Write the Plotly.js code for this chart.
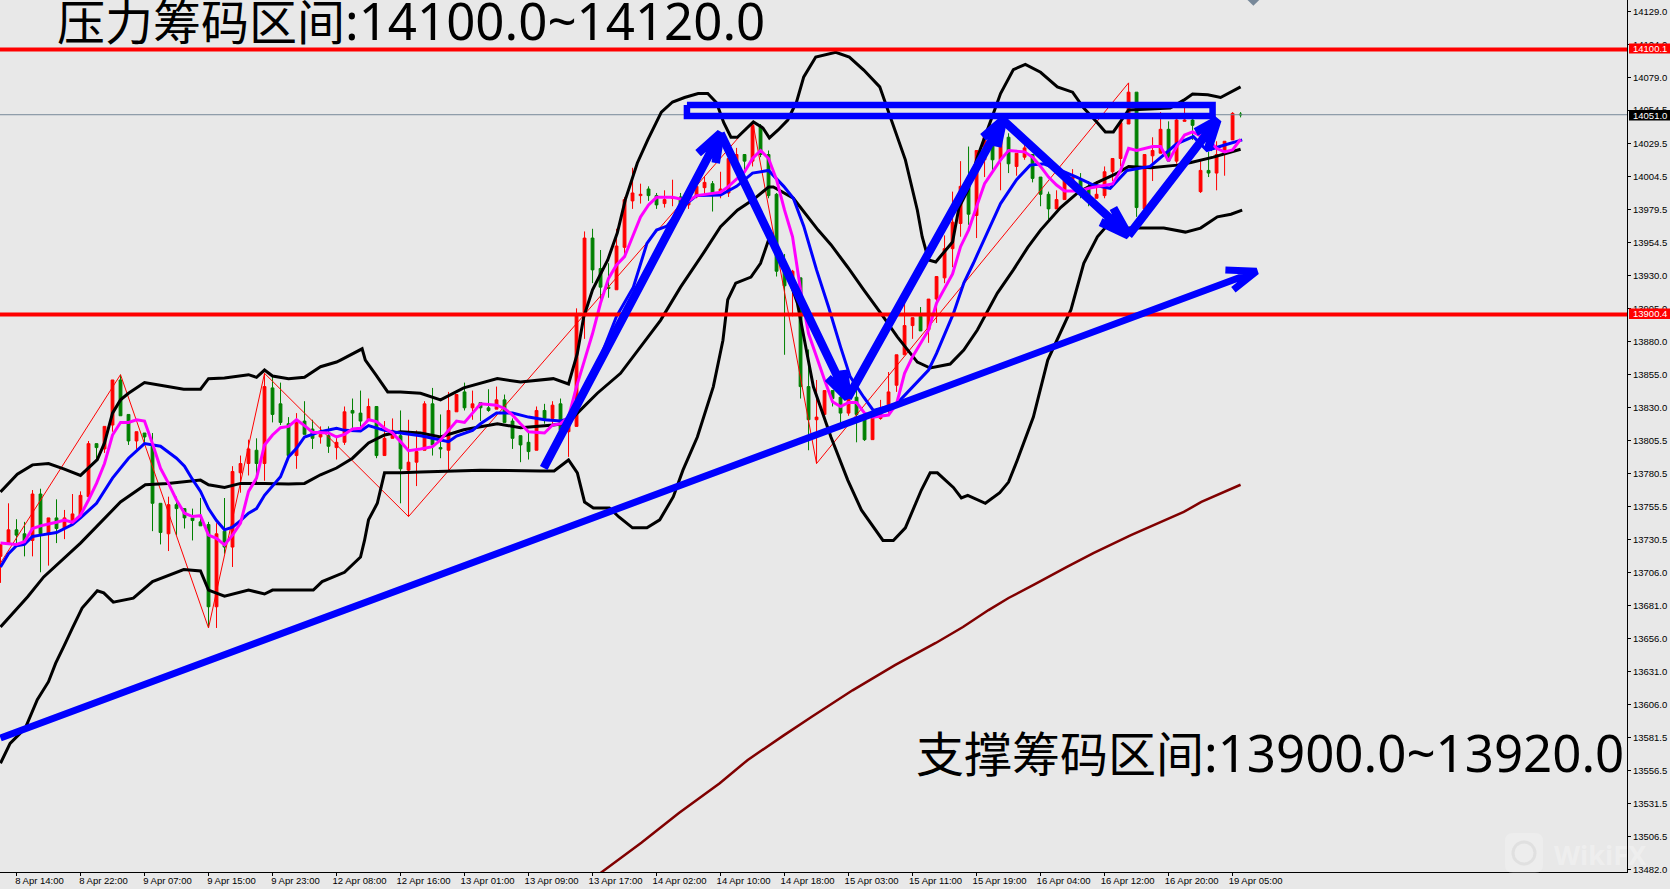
<!DOCTYPE html>
<html>
<head>
<meta charset="utf-8">
<script src="https://cdn.plot.ly/plotly-3.0.1.min.js"></script>
<style>html,body{margin:0;padding:0;background:#e8e8e8;overflow:hidden}#chart{width:1670px;height:889px}</style>
</head>
<body>
<div id="chart"></div>
<script>
const open = [
13718,13728,13738,13735,13730,13765,13735,13747,13739,13742,
13748,13763,13803,13799,13817,13851,13825,13805,13811,13801,
13758,13735,13757,13754,13747,13744,13742,13680,13737,13725,
13781,13788,13798,13788,13845,13833,13818,13794,13820,13814,
13808,13809,13800,13804,13828,13826,13821,13831,13794,13807,
13809,13783,13789,13798,13833,13800,13798,13827,13842,13830,
13834,13830,13829,13836,13820,13809,13804,13798,13828,13822,
13833,13812,13816,13902,13958,13935,13921,13919,13951,13986,
13990,13995,13990,13984,13988,13989,13983,13989,13996,13999,
13993,13992,14016,14021,14016,14042,14021,13991,13934,13921,
13928,13846,13821,13825,13843,13838,13826,13838,13823,13806,
13822,13828,13847,13870,13892,13899,13889,13912,13928,13950,
13969,13997,13975,14017,14032,14017,14034,14012,14019,14021,
14004,13991,13980,13987,14002,14002,13997,13988,13990,14008,
14018,14044,14068,13980,14020,14022,14040,14016,14046,14047,
13993,14009,14007,14022,14032,14051.5];
const high = [
13727,13758,13746,13744,13768,13769,13747,13761,13753,13765,
13767,13805,13803,13816,13851,13855,13825,13812,13811,13811,
13758,13763,13763,13754,13754,13762,13744,13743,13762,13786,
13794,13806,13807,13856,13854,13849,13823,13826,13835,13821,
13816,13816,13809,13831,13837,13843,13837,13831,13820,13822,
13828,13821,13813,13835,13845,13825,13842,13840,13849,13843,
13834,13844,13846,13840,13822,13809,13812,13831,13833,13835,
13837,13817,13905,13963,13965,13949,13939,13965,13989,14011,
13999,13997,13992,13994,14002,13992,13990,14002,14004,14001,
14008,14018,14026,14021,14046,14044,14024,13992,13946,13934,
13928,13874,13851,13843,13843,13840,13851,13846,13823,13824,
13836,13857,13870,13910,13898,13906,13912,13929,13960,13993,
14016,14027,14024,14034,14032,14034,14037,14022,14029,14021,
14004,13993,13994,14007,14010,14007,14001,14001,14012,14018,
14045,14075,14068,14021,14034,14053,14046,14052,14057,14050,
14016,14023,14031,14031,14053,14053];
const low = [
13698,13728,13727,13718,13718,13706,13711,13728,13731,13742,
13748,13763,13791,13796,13812,13824,13802,13799,13803,13737,
13727,13722,13734,13739,13730,13741,13664,13664,13720,13710,
13766,13779,13772,13775,13819,13817,13793,13784,13810,13799,
13803,13796,13791,13802,13813,13813,13821,13792,13794,13807,
13758,13748,13771,13798,13794,13792,13783,13827,13828,13821,
13820,13827,13829,13819,13799,13789,13791,13798,13818,13818,
13812,13793,13816,13882,13924,13909,13913,13919,13944,13980,
13984,13986,13980,13981,13982,13979,13980,13988,13990,13978,
13988,13989,14008,14007,14012,14019,13988,13929,13870,13899,
13837,13798,13788,13825,13831,13818,13824,13804,13805,13806,
13821,13826,13842,13870,13882,13888,13879,13894,13924,13936,
13959,13968,13958,14004,14009,13994,14007,14005,14017,14000,
13982,13972,13980,13987,13998,13988,13982,13988,13988,14001,
14012,14044,13974,13980,14001,14022,14016,14014,14046,14032,
13992,14004,13994,14005,14032,14049];
const close = [
13727,13738,13734,13728,13765,13735,13747,13739,13747,13750,
13764,13803,13800,13816,13851,13824,13805,13812,13808,13758,
13736,13757,13754,13747,13745,13741,13680,13735,13725,13782,
13788,13799,13788,13846,13825,13819,13794,13819,13810,13807,
13810,13801,13804,13827,13826,13820,13831,13794,13807,13813,
13784,13789,13797,13833,13802,13799,13828,13840,13830,13833,
13830,13828,13836,13819,13807,13802,13797,13828,13821,13832,
13813,13817,13900,13958,13934,13921,13920,13952,13987,13992,
13991,13990,13983,13987,13989,13980,13990,13997,14000,13990,
13995,14018,14021,14016,14043,14021,13990,13933,13922,13933,
13846,13821,13823,13843,13837,13826,13838,13825,13806,13823,
13826,13842,13870,13892,13898,13888,13912,13929,13950,13970,
13997,13976,14024,14034,14017,14032,14014,14022,14026,14003,
13991,13980,13987,14002,14004,13995,13989,13991,14008,14018,
14045,14068,13981,14021,14024,14040,14016,14047,14047,14043,
14009,14007,14021,14031,14052,14051];

const upperIdx = [0,2.1,4,6,7.9,10,12.1,13,14,15,16,18,20.9,22.9,25,26,28,31,32,33,34,36,38,40,42,42.5,45.2,45.6,46.9,48.4,50,52.5,55,57.9,62.1,65,69.1,71,72.1,72.9,74,75.9,77.1,78.1,79.6,80.9,82.6,84,85.5,87.2,88.4,89.5,90.4,91.3,92.1,94.1,95.3,96.1,97.2,98.4,99.5,100.4,101.9,104.4,106.1,107.9,109.9,111,113.1,114.6,115.2,116,116.9,119,119.8,120.9,122.1,124.1,125,126.6,128.1,130,132.1,134,135.4,137.1,138.1,139.1,141,146.2,147.9,149,150.9,152.5,155];
const upperBand = [13766.5,13780,13787,13788,13784,13779,13791,13803.5,13826,13836,13841,13849,13846,13844,13844,13852,13852.5,13855,13853,13858.5,13854,13852,13853,13861,13864.5,13866,13874.5,13866,13855,13842,13842,13841,13836,13845,13852,13849.5,13852,13848,13871,13898.5,13919,13941.5,13962,13987,14014.6,14032,14053,14060.6,14064,14067,14067,14060,14045,14034,14034,14045.5,14041,14033.5,14039.5,14047,14060.6,14079.5,14094.5,14098,14094.5,14084.7,14072,14053,14017,13979,13959,13941.5,13940,13955,13981,13994,14019,14052,14067,14085,14089,14083,14072,14068,14056,14045,14038,14038,14054.6,14056,14062,14066.6,14066,14064,14072];

const midIdx = [0,3.4,5.4,10,15,18.1,20.9,25,26,28,30,33,36,38,40,42,44,46,48,50,52.5,55,57.9,62.1,65,69.1,71,72.1,74.6,77.5,82.5,85,87.9,90,92.1,94.1,96,96.6,99.1,102.2,103.8,105.9,107.9,110,112.1,114.6,116.2,118.7,120.4,122.1,124.6,126.6,128.4,130,132.5,134.8,137.1,139.6,141,143.8,147.1,148.8,151.6,155];
const midBand = [13664.7,13687.5,13702.5,13728,13759,13772,13773,13775.5,13772,13770,13773,13773,13772.5,13773,13779.5,13784.6,13792,13803.5,13809.5,13812,13811,13808,13813.5,13818,13815,13817,13818.5,13826,13841,13856,13896,13921,13947,13966.5,13979,13987,13996.5,13996.5,13988,13964,13953,13936,13919,13901.5,13883.5,13864.5,13860,13863,13873.6,13888.7,13916.5,13934,13951,13964,13981,13993,14000,14007,14012,14011,14013,14015,14019,14025];

const lowerIdx = [0,1.2,3.1,4.6,6,6.9,7.9,9,10.2,12.1,12.9,14.1,16.6,19,22.9,25,26,28,31,33,34,37.5,39.1,40.2,43,45,45.5,46,47.1,48,50,52.5,60,67.5,69.2,71,72.1,73,74.1,76.1,77.3,79,80.8,82.4,84.1,85.3,87.1,89.1,90.3,90.9,91.9,93.8,95,96,97.9,99.6,101.6,103.8,105.9,107.6,110.3,111.6,113.1,115.1,116.2,117.1,119.1,120.1,120.9,123.1,124.9,126,127.1,129.1,130.9,133.8,135.4,137.1,138.4,141,145.4,148.1,150,152.1,153.8,155.2];
const lowerBand = [13562,13577,13588.5,13610,13623.5,13637.5,13650,13664,13679,13692,13690.5,13683.5,13686.5,13699,13708,13707,13692.6,13688,13692.6,13689.6,13692.6,13692.6,13692.6,13699,13706,13717.5,13730,13745.5,13758,13781,13781,13781.6,13783,13782.4,13782.4,13790.7,13781,13759,13754.5,13754.5,13747.7,13739.5,13739.5,13745.5,13763,13783,13808,13846,13881,13911.5,13924,13928.6,13939,13956.5,13939,13909,13846,13808,13775.5,13753,13730,13730,13739.5,13768,13781,13781,13770,13762,13764,13758,13766,13774,13790.7,13823,13866,13904,13939,13959,13968,13965.5,13965.5,13962.5,13965.5,13974,13976,13979];

const blueIdx = [0,1,2,3,4,5,7,9,10,12,14,16,18,20,22,23,24,25,26,27,28,29,30,31,32,33,35,36,37,38,40,42,43,45,46,48,50,52.5,54,56,57,59,60,62,64,66,68,70,71,72,73,75,77,79.1,80.8,82,83.3,85,87,90,92,94,96,97.9,99.1,100.4,102,103.5,105,106.2,107.9,109.1,112,116,117,119.1,120.4,121.6,123.3,125,127,128.7,130.4,132.9,134.5,136.6,138.7,140.8,143.7,145.4,147,149.1,150.8,152.9,155.2];
const blueMA = [13710,13720,13726,13727,13733,13734,13736,13742,13747,13758,13777,13792,13803,13801,13792,13786,13776,13767,13754,13745,13738,13740,13745,13750.5,13754,13764,13778,13793,13799.5,13808,13812,13814.6,13813,13812.6,13816.6,13813,13811,13809,13807,13804.5,13808.7,13813,13818,13826,13826,13823,13821,13820,13822,13831,13841,13868.5,13899,13921,13954,13964,13967,13980.5,13990,13990.5,13997,14007,14009,13997,13988,13967,13934,13906,13876,13853.5,13838,13828,13833,13858.5,13871,13901,13924,13939,13961.6,13984,14002,14013,14014,14008,14004,13998,13995.5,14009,14012,14020.7,14029,14034.5,14024,14028,14032];

const magentaIdx = [0,2,3,4,5,6,7,8,9,10,11,12,13,14,15,16,17,18,19,20,21,22,23,24,25,26,27,28,29,30,31,32,33,34,35,36,37,38,39,41,42,43,44,45,46,47,48,49,50,51,52.5,54,55,56,57,58,59,60,62,63,64,65,66,68,69,70,71,72,73,74,75,76,77,78,79,80,81,82,84,85,86,87,89,90,91,93,94,95,96,97,98,99,100,101,102,103,104,105,106,107,108,109,111,112,113,114,116,117,119,120,121,122,123,125,126,128,129,130,131,132,133,135,136,139,140,141,142,144,145,146,147,148,149,151,152,153,154,155];
const magentaMA = [13728,13727,13729,13739,13741,13742.4,13743.7,13745.4,13743.7,13749,13760.5,13773,13788,13809.5,13819,13819,13821,13820,13803,13784.4,13773,13760.5,13750.5,13748,13748.7,13734,13731.6,13726.6,13734,13743,13767,13777,13802,13809.5,13815,13816,13821,13816.6,13811.5,13811,13808,13810,13814,13814.6,13821,13819.6,13814.6,13811,13804.5,13797.7,13799,13800.7,13805.7,13813,13820,13819,13826,13833,13832,13829.5,13824.5,13818,13812,13811,13817,13818,13823,13846,13866,13886,13909,13927.6,13937.7,13944,13959,13974,13983,13988.7,13988.7,13987.5,13986,13990,13991.7,13992.5,13997,14008,14018,14024,14018,14002,13979,13959,13919,13886,13868.5,13851,13834.6,13831,13834,13834,13826,13823,13824.6,13833,13856,13868.6,13888.7,13909,13931,13951.5,13964,13981.7,13999,14017,14024,14023,14019,14012,14004,13998,13993.5,13993.5,13995.5,13998.8,14009,14025.7,14024,14027,14027,14016,14027,14035.7,14038,14032,14025.7,14023,14024.4,14032.5];

const slowIdx = [75,80.1,84.8,89.9,93.4,97.9,101.4,106.5,111.8,116.9,120.3,123.5,126,129.3,133.3,136.6,141.3,147.9,150.1,155];
const slowMA = [13479.3,13502,13524.5,13547,13564.5,13583,13597,13617,13636,13652.7,13664.7,13677.5,13686.6,13697,13710,13720.5,13734,13751.5,13759,13772];

const zigzagIdx = [0,15,26,33,51,94,102,141];
const zigzag = [13713,13855,13664,13856,13748,14046,13788,14075];

const resistanceLevel = 14100.1;
const supportLevel = 13900.4;
const lastPrice = 14051.0;

const trendIdx = [0,157,153.1,157,154.1];
const trendVal = [13581,13933,13934,13933,13919];
const arrow1Idx = [67.9,90,87.2,90,89.4];
const arrow1Val = [13784.6,14037,14022,14037,14014.6];
const arrow2Idx = [90,105.9,103.4,105.9,105.4];
const arrow2Val = [14037,13837.5,13852.5,13837.5,13858.5];
const arrow3Idx = [105.9,125.3,122.8,125.3,124.6];
const arrow3Val = [13837.5,14047,14034,14047,14026.7];
const arrow4Idx = [125.3,141,137.5,141,139.1];
const arrow4Val = [14047,13960,13970,13960,13980.7];
const arrow5Idx = [141,152.1,149.4,152.1,150.9];
const arrow5Val = [13960,14047,14038,14047,14024.5];
const boxIdx = [85.8,151.5,151.5,85.8,85.8];
const boxVal = [14058.3,14058.3,14050,14050,14058.3];

const yTicks = [14129,14104,14079,14054.5,14029.5,14004.5,13979.5,13954.5,13930,13905,13880,13855,13830,13805.5,13780.5,13755.5,13730.5,13706,13681,13656,13631,13606,13581.5,13556.5,13531.5,13506.5,13482];
const yTickLabels = ["14129.0","14104.0","14079.0","14054.5","14029.5","14004.5","13979.5","13954.5","13930.0","13905.0","13880.0","13855.0","13830.0","13805.5","13780.5","13755.5","13730.5","13706.0","13681.0","13656.0","13631.0","13606.0","13581.5","13556.5","13531.5","13506.5","13482.0"];
const xTicks = [2,10,18,26,34,42,50,58,66,74,82,90,98,106,114,122,130,138,146,154];
const xTickLabels = ["8 Apr 14:00","8 Apr 22:00","9 Apr 07:00","9 Apr 15:00","9 Apr 23:00","12 Apr 08:00","12 Apr 16:00","13 Apr 01:00","13 Apr 09:00","13 Apr 17:00","14 Apr 02:00","14 Apr 10:00","14 Apr 18:00","15 Apr 03:00","15 Apr 11:00","15 Apr 19:00","16 Apr 04:00","16 Apr 12:00","16 Apr 20:00","19 Apr 05:00"];

const W = 1627, H = 872;
const px = v => v / W, py = v => 1 - v / H;
const barIdx = open.map((_, i) => i);
const ln = (x, y, color, width, extra) => Object.assign({type:'scatter', mode:'lines', x, y, hoverinfo:'skip', showlegend:false, line:{color, width, simplify:false}}, extra || {});
const lastX = [-1, 204];

const data = [
  ln(lastX, [lastPrice, lastPrice], '#778899', 1),
  {type:'candlestick', x:barIdx, open, high, low, close, showlegend:false, hoverinfo:'skip', whiskerwidth:0,
   increasing:{line:{color:'#ff0000', width:1}, fillcolor:'#ff0000'},
   decreasing:{line:{color:'#008000', width:1}, fillcolor:'#008000'}},
  ln(zigzagIdx, zigzag, '#ff0000', 1),
  ln(upperIdx, upperBand, '#000000', 3),
  ln(midIdx, midBand, '#000000', 3),
  ln(lowerIdx, lowerBand, '#000000', 3),
  ln(slowIdx, slowMA, '#800000', 2.5),
  ln(blueIdx, blueMA, '#0000ff', 3),
  ln(magentaIdx, magentaMA, '#ff00ff', 3),
  ln(lastX, [resistanceLevel, resistanceLevel], '#ff0000', 4),
  ln(lastX, [supportLevel, supportLevel], '#ff0000', 4),
  ln(trendIdx, trendVal, '#0000ff', 7),
  ln(arrow1Idx, arrow1Val, '#0000ff', 8.5),
  ln(arrow2Idx, arrow2Val, '#0000ff', 8.5),
  ln(arrow3Idx, arrow3Val, '#0000ff', 8.5),
  ln(arrow4Idx, arrow4Val, '#0000ff', 8.5),
  ln(arrow5Idx, arrow5Val, '#0000ff', 8.5),
  ln(boxIdx, boxVal, '#0000ff', 6.5),
  {type:'scatter', mode:'markers', x:[156.6], y:[14137.5], hoverinfo:'skip', showlegend:false, marker:{symbol:'diamond', size:9, color:'#778899'}}
];

const smallFamily = "'Liberation Sans',sans-serif";
const tagFont = {family:smallFamily, size:9.5, color:'#ffffff'};
const bigFont = {family:"'Noto Sans',sans-serif", size:51, color:'#000000'};
const cjk = s => `<span style="font-family:'Noto Sans CJK SC';font-size:48px">${s}</span>`;
const tag = (y, text) => ({xref:'paper', yref:'paper', x:px(1632.5), y:py(y), xanchor:'left', yanchor:'middle', showarrow:false, text, font:tagFont, borderpad:0, borderwidth:0});
const tagBox = (y0, y1, color) => ({type:'rect', layer:'above', xref:'paper', yref:'paper', x0:px(1629), x1:px(1670), y0:py(y0), y1:py(y1), fillcolor:color, line:{width:0}});

const logo = `M ${px(1513)} ${py(833)} L ${px(1535)} ${py(833)} Q ${px(1543)} ${py(833)} ${px(1543)} ${py(841)} L ${px(1543)} ${py(865)} Q ${px(1543)} ${py(873)} ${px(1535)} ${py(873)} L ${px(1513)} ${py(873)} Q ${px(1505)} ${py(873)} ${px(1505)} ${py(865)} L ${px(1505)} ${py(841)} Q ${px(1505)} ${py(833)} ${px(1513)} ${py(833)} Z`;

const layout = {
  width:1670, height:889,
  margin:{l:0, r:43, t:0, b:17, pad:0},
  paper_bgcolor:'#e8e8e8', plot_bgcolor:'#e8e8e8',
  showlegend:false, hovermode:false, dragmode:false, boxgap:0.5, boxmode:'overlay',
  xaxis:{type:'linear', range:[-0.0625,203.3], rangeslider:{visible:false}, showgrid:false, zeroline:false, showline:true, linecolor:'#000000', linewidth:1,
    tickmode:'array', tickvals:xTicks, ticktext:xTickLabels, ticks:'outside', ticklen:3, tickwidth:1, tickcolor:'#000000', ticklabelshift:23, ticklabelstandoff:-3,
    tickfont:{family:smallFamily, size:9.5, color:'#000000'}, tickangle:0},
  yaxis:{type:'linear', side:'right', range:[13480,14137.5], showgrid:false, zeroline:false, showline:true, linecolor:'#000000', linewidth:1,
    tickmode:'array', tickvals:yTicks, ticktext:yTickLabels, ticks:'outside', ticklen:3, tickwidth:1, tickcolor:'#000000',
    tickfont:{family:smallFamily, size:9.5, color:'#000000'}},
  shapes:[
    tagBox(43.5, 53.5, '#ff0000'),
    tagBox(110, 120.5, '#000000'),
    tagBox(308.5, 319, '#ff0000'),
    {type:'path', layer:'above', xref:'paper', yref:'paper', path:logo, fillcolor:'rgba(255,255,255,0.22)', line:{width:0}},
    {type:'circle', layer:'above', xref:'paper', yref:'paper', x0:px(1513), x1:px(1535), y0:py(842), y1:py(864), fillcolor:'rgba(0,0,0,0)', line:{color:'rgba(200,200,200,0.35)', width:3}}
  ],
  annotations:[
    {xref:'paper', yref:'paper', x:px(56), y:py(20), xanchor:'left', yanchor:'middle', showarrow:false, text:cjk('压力筹码区间')+':14100.0~14120.0', font:bigFont, borderpad:0},
    {xref:'paper', yref:'paper', x:px(915), y:py(751), xanchor:'left', yanchor:'middle', showarrow:false, text:cjk('支撑筹码区间')+':13900.0~13920.0', font:bigFont, borderpad:0},
    tag(48.5, '14100.1'), tag(115.3, '14051.0'), tag(313.7, '13900.4'),
    {xref:'paper', yref:'paper', x:px(1553), y:py(854), xanchor:'left', yanchor:'middle', showarrow:false, text:'<b>WikiFX</b>', font:{family:'Open Sans, sans-serif', size:27, color:'rgba(255,255,255,0.3)'}, borderpad:0}
  ]
};

Plotly.newPlot('chart', data, layout, {displayModeBar:false, staticPlot:true});
</script>
</body>
</html>
